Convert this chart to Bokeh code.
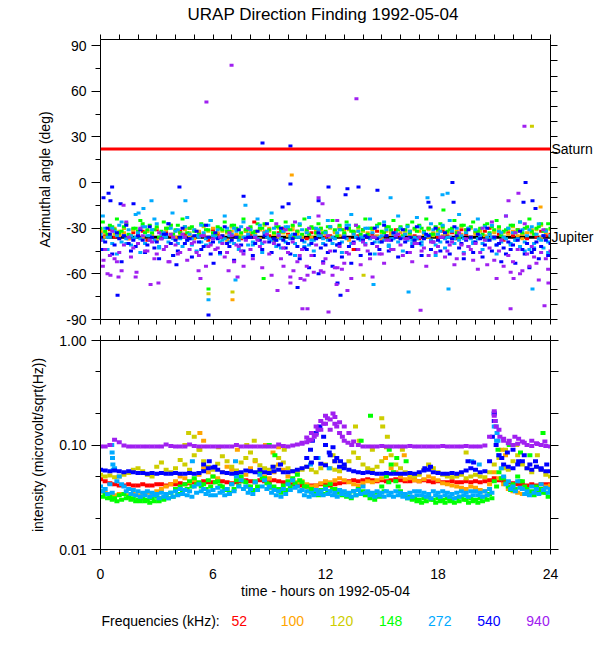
from bokeh.plotting import figure
from bokeh.layouts import column
from bokeh.models import Range1d, FixedTicker, LinearAxis, LogAxis, ColumnDataSource, Span
from bokeh.core.properties import value
from bokeh.embed import file_html
from bokeh.resources import INLINE

# ---------------- data ----------------
title_text = "URAP Direction Finding  1992-05-04"
freqs = [52, 100, 120, 148, 272, 540, 940]
planets = ["Saturn", "Jupiter"]
planet_az = [22, -36]

x_ticks = [0, 6, 12, 18, 24]
x_minor = [1, 2, 3, 4, 5, 7, 8, 9, 10, 11, 13, 14, 15, 16, 17, 19, 20, 21, 22, 23]
x_all = [0, 1, 2, 3, 4, 5, 6, 7, 8, 9, 10, 11, 12, 13, 14, 15, 16, 17, 18, 19, 20, 21, 22, 23, 24]
az_ticks = [-90, -60, -30, 0, 30, 60, 90]
az_minor = [-75, -45, -15, 15, 45, 75]
az_right_minor = [-90, -80, -70, -60, -50, -40, -30, -20, -10, 0, 10, 20, 30, 40, 50, 60, 70, 80, 90]
int_ticks = [0.01, 0.1, 1.0]
int_tick_labels = ["0.01", "0.10", "1.00"]
int_minor = [0.02, 0.05, 0.2, 0.5]
int_all = [0.01, 0.02, 0.05, 0.1, 0.2, 0.5, 1.0]

hours = [0.0, 0.25, 0.5, 0.75, 1.0, 1.25, 1.5, 1.75, 2.0, 2.25, 2.5, 2.75, 3.0, 3.25, 3.5, 3.75,
         4.0, 4.25, 4.5, 4.75, 5.0, 5.25, 5.5, 5.75, 6.0, 6.25, 6.5, 6.75, 7.0, 7.25, 7.5, 7.75,
         8.0, 8.25, 8.5, 8.75, 9.0, 9.25, 9.5, 9.75, 10.0, 10.25, 10.5, 10.75, 11.0, 11.25, 11.5, 11.75,
         12.0, 12.25, 12.5, 12.75, 13.0, 13.25, 13.5, 13.75, 14.0, 14.25, 14.5, 14.75, 15.0, 15.25, 15.5, 15.75,
         16.0, 16.25, 16.5, 16.75, 17.0, 17.25, 17.5, 17.75, 18.0, 18.25, 18.5, 18.75, 19.0, 19.25, 19.5, 19.75,
         20.0, 20.25, 20.5, 20.75, 21.0, 21.25, 21.5, 21.75, 22.0, 22.25, 22.5, 22.75, 23.0, 23.25, 23.5, 23.75,
         24.0]
hours_b = [0.125, 0.375, 0.625, 0.875, 1.125, 1.375, 1.625, 1.875, 2.125, 2.375, 2.625, 2.875,
           3.125, 3.375, 3.625, 3.875, 4.125, 4.375, 4.625, 4.875, 5.125, 5.375, 5.625, 5.875,
           6.125, 6.375, 6.625, 6.875, 7.125, 7.375, 7.625, 7.875, 8.125, 8.375, 8.625, 8.875,
           9.125, 9.375, 9.625, 9.875, 10.125, 10.375, 10.625, 10.875, 11.125, 11.375, 11.625, 11.875,
           12.125, 12.375, 12.625, 12.875, 13.125, 13.375, 13.625, 13.875, 14.125, 14.375, 14.625, 14.875,
           15.125, 15.375, 15.625, 15.875, 16.125, 16.375, 16.625, 16.875, 17.125, 17.375, 17.625, 17.875,
           18.125, 18.375, 18.625, 18.875, 19.125, 19.375, 19.625, 19.875, 20.125, 20.375, 20.625, 20.875,
           21.125, 21.375, 21.625, 21.875, 22.125, 22.375, 22.625, 22.875, 23.125, 23.375, 23.625, 23.875]

# azimuth (deg) per frequency
az_52 = [-33, -35, -31, -36, -34, -30, -37, -33, -35, -32, -38, -34, -31, -36, -33, -35,
         -37, -32, -34, -30, -36, -33, -35, -38, -31, -34, -36, -33, -29, -35, -37, -32,
         -34, -36, -31, -33, -35, -38, -33, -30, -34, -36, -32, -35, -37, -33, -31, -34,
         -36, -35, -32, -30, -34, -37, -33, -35, -31, -36, -34, -32, -38, -35, -33, -31,
         -36, -34, -32, -35, -37, -33, -30, -34, -36, -32, -35, -33, -37, -31, -34, -36,
         -33, -35, -32, -30, -36, -34, -38, -33, -35, -31, -34, -37, -33, -36, -32, -35, -34]
az_100 = [-32, -36, -34, -30, -35, -33, -37, -31, -34, -36, -32, -35, -38, -33, -30, -34,
          -36, -33, -31, -35, -37, -32, -34, -36, -30, -33, -35, -38, -32, -34, -36, -31,
          -33, -35, -37, -32, -30, -34, -36, -33, -35, -31, -34, -37, -33, -36, -32, -30,
          -34, -36, -33, -35, -31, -38, -34, -32, -36, -33, -30, -35, -37, -32, -34, -36,
          -33, -31, -35, -38, -32, -34, -36, -33, -30, -35, -33, -37, -32, -34, -31, -36,
          -34, -32, -35, -37, -33, -30, -36, -34, -32, -35, -37, -33, -31, -34, -36, -33, -35]
az_120 = [-31, -33, -29, -34, -32, -30, -35, -31, -33, -29, -32, -34, -30, -33, -31, -28,
          -32, -34, -30, -33, -31, -35, -29, -32, -34, -30, -32, -33, -29, -31, -34, -32,
          -30, -33, -31, -28, -32, -34, -30, -33, -31, -29, -33, -35, -32, -30, -34, -31,
          -33, -30, -32, -29, -34, -31, -33, -30, -32, -35, -31, -29, -33, -30, -32, -34,
          -30, -32, -34, -31, -29, -33, -31, -35, -32, -30, -33, -31, -34, -29, -32, -30,
          -33, -31, -29, -34, -32, -30, -33, -31, -29, -32, -34, -30, -33, -31, -28, -32, -31]
az_148 = [-30, -32, -28, -31, -33, -29, -34, -30, -32, -27, -31, -33, -29, -32, -30, -28,
          -31, -33, -29, -30, -32, -34, -28, -31, -33, -29, -31, -32, -28, -30, -33, -31,
          -29, -32, -30, -27, -31, -33, -29, -32, -30, -28, -32, -34, -31, -29, -33, -30,
          -32, -29, -31, -28, -33, -30, -32, -29, -31, -34, -30, -28, -32, -29, -31, -33,
          -29, -31, -33, -30, -28, -32, -30, -34, -31, -29, -32, -30, -33, -28, -31, -29,
          -32, -30, -28, -33, -31, -29, -32, -30, -28, -31, -33, -29, -32, -30, -27, -31, -30]
az_148b = [-26, -34, -29, -24, -32, -27, -35, -30, -25, -33, -28, -31, -36, -26, -30, -34,
           -28, -24, -33, -29, -35, -27, -31, -25, -34, -30, -26, -32, -28, -36, -24, -31,
           -33, -27, -30, -35, -25, -29, -32, -26, -31, -36, -28, -24, -34, -30, -27, -33,
           -29, -25, -35, -31, -26, -32, -28, -34, -24, -30, -36, -27, -33, -29, -25, -31,
           -35, -28, -26, -32, -30, -24, -34, -29, -27, -33, -31, -25, -36, -28, -30, -26,
           -32, -34, -27, -29, -25, -35, -31, -28, -33, -26, -30, -24, -34, -29, -32, -27]
az_272a = [-34, -30, -36, -32, -28, -35, -31, -37, -33, -29, -35, -31, -27, -34, -36, -30,
           -32, -37, -29, -34, -31, -36, -33, -28, -35, -31, -38, -30, -34, -32, -29, -36,
           -31, -35, -28, -33, -37, -30, -34, -32, -29, -34, -36, -31, -33, -38, -30, -35,
           -33, -29, -37, -31, -35, -28, -34, -32, -36, -30, -33, -29, -35, -31, -37, -33,
           -30, -34, -32, -36, -29, -33, -35, -31, -34, -28, -36, -32, -30, -35, -33, -37,
           -31, -35, -29, -34, -37, -32, -36, -30, -33, -37, -31, -35, -29, -34, -38, -32, -35]
az_272b = [-38, -36, -40, -35, -39, -37, -41, -36, -37, -40, -35, -38, -42, -36, -39, -37,
           -40, -36, -38, -41, -35, -39, -37, -40, -36, -39, -37, -35, -40, -38, -36, -41,
           -39, -37, -40, -36, -38, -42, -37, -39, -37, -40, -36, -39, -41, -38, -35, -40,
           -38, -36, -41, -39, -37, -40, -36, -38, -40, -37, -39, -36, -38, -41, -37, -39,
           -36, -38, -40, -37, -39, -35, -38, -41, -39, -37, -36, -40, -38, -37, -42, -39,
           -37, -40, -38, -36, -41, -39, -37, -40, -38, -42, -39, -44, -40, -37, -43, -39]
az_272c = [-22, -44, -30, -47, -26, -40, -35, -21, -46, -29, -38, -24, -43, -33, -27, -48,
           -31, -42, -23, -37, -45, -28, -41, -25, -36, -47, -22, -39, -30, -44, -26, -34,
           -41, -24, -46, -32, -20, -38, -43, -29, -35, -48, -27, -42, -23, -45, -31, -37,
           -25, -40, -33, -46, -28, -21, -44, -36, -30, -24, -47, -39, -26, -42, -34, -22,
           -45, -29, -38, -23, -41, -35, -27, -48, -32, -43, -25, -37, -21, -46, -30, -40,
           -24, -44, -36, -28, -47, -33, -22, -41, -38, -26, -45, -31, -43, -27, -35, -46]
az_540a = [-36, -39, -34, -41, -37, -35, -40, -38, -35, -38, -41, -36, -39, -37, -34, -40,
           -38, -36, -40, -37, -35, -39, -42, -36, -39, -37, -35, -40, -38, -36, -41, -37,
           -36, -40, -38, -35, -39, -37, -41, -38, -40, -37, -42, -38, -44, -40, -37, -43,
           -41, -38, -45, -40, -36, -42, -39, -37, -38, -36, -40, -37, -39, -35, -38, -36,
           -37, -39, -36, -38, -40, -37, -35, -39, -38, -36, -39, -37, -35, -40, -38, -36,
           -39, -37, -41, -38, -36, -40, -43, -39, -41, -38, -44, -40, -46, -39, -42, -38, -40]
az_540b = [-44, -30, -47, -33, -52, -28, -45, -42, -31, -46, -29, -43, -50, -34, -27, -48,
           -45, -30, -38, -49, -32, -44, -28, -47, -33, -46, -29, -42, -51, -31, -45, -36,
           -48, -32, -44, -27, -46, -38, -30, -43, -47, -34, -50, -43, -56, -48, -33, -52,
           -46, -55, -41, -49, -30, -53, -44, -48, -35, -47, -30, -44, -28, -45, -33, -49,
           -31, -46, -42, -29, -48, -34, -44, -30, -45, -33, -47, -29, -43, -50, -31, -46,
           -34, -49, -30, -45, -41, -52, -47, -44, -53, -32, -47, -56, -44, -50, -35, -48]
az_940a = [-38, -44, -48, -50, -46, -41, -36, -43, -40, -35, -45, -39, -47, -37, -42, -34,
           -41, -46, -36, -44, -39, -48, -35, -42, -37, -43, -40, -46, -35, -41, -45, -38,
           -44, -36, -42, -39, -47, -40, -35, -43, -46, -39, -52, -44, -55, -48, -41, -58,
           -50, -45, -56, -42, -53, -47, -40, -44, -39, -45, -36, -42, -47, -38, -44, -35,
           -41, -37, -46, -40, -36, -43, -48, -39, -42, -36, -45, -39, -50, -41, -37, -44,
           -40, -46, -38, -43, -51, -45, -55, -48, -52, -44, -58, -47, -42, -53, -46, -50, -45]
az_940b = [-55, -60, -32, -52, -58, -26, -49, -62, -30, -45, -38, -50, -33, -44, -52, -36,
           -47, -34, -51, -40, -46, -35, -55, -41, -44, -36, -49, -33, -52, -42, -47, -30,
           -50, -38, -56, -34, -61, -27, -50, -31, -62, -26, -48, -64, -30, -59, -22, -53,
           -35, -61, -25, -57, -46, -63, -28, -54, -41, -50, -36, -47, -53, -38, -44, -34,
           -48, -37, -52, -40, -45, -55, -39, -46, -36, -49, -41, -54, -33, -47, -42, -51,
           -57, -30, -54, -26, -63, -38, -22, -59, -33, -60, -27, -55, -49, -64, -31, -57]

# scattered azimuth outliers (hours, deg)
out_540_h = [0.16, 0.43, 0.53, 0.62, 1.07, 1.76, 4.21, 7.63, 8.64, 9.71, 10.03, 10.13, 10.13, 11.63, 12.16,
             13.07, 13.17, 13.76, 14.77, 17.49, 17.6, 18.77, 18.83, 22.56, 22.67, 23.04, 23.2,
             0.91, 4.05, 5.76, 6.03, 10.51, 11.63, 12.64, 12.8]
out_540_az = [-10, -7, -12, -3, -14, -14, -3, -9, 26, -16, -14, -1, 24, -12, -3,
              -8, -4, -3, -5, -13, -16, 0, -13, -13, 0, -12, -17,
              -74, -54, -87, -53, -69, -60, -66, -74]
out_940_h = [5.65, 6.99, 13.65, 22.61, 11.63, 11.84, 21.76, 22.29, 1.23,
             0.16, 0.53, 0.96, 1.92, 2.67, 3.09, 3.68, 5.23, 5.33, 6.83, 7.31, 7.63, 9.76, 10.29,
             10.67, 11.04, 11.89, 12.64, 12.16, 10.13, 10.77, 9.44, 12.59, 11.04, 13.17, 14.51,
             17.07, 21.87, 23.89, 22.03, 23.68]
out_940_az = [53, 77, 55, 37, -10, -14, -12, -7, -15,
              -51, -61, -62, -59, -67, -66, -52, -58, -63, -58, -62, -55, -55, -58,
              -63, -61, -59, -56, -85, -66, -83, -71, -67, -83, -71, -62,
              -84, -83, -66, -63, -81]
out_272_h = [2.03, 2.29, 2.72, 3.84, 4.53, 7.73, 15.47, 17.44, 18.24, 18.51,
             5.76, 7.2, 14.56, 16.43, 18.56, 23.04]
out_272_az = [-20, -17, -12, -20, -12, -15, -10, -10, -8, -7,
              -77, -64, -67, -72, -70, -70]
out_120_h = [23.01, 5.76, 7.04, 14.03]
out_120_az = [37, -73, -72, -61]
out_100_h = [7.04, 23.47, 10.2]
out_100_az = [-77, -16, 5]
out_148_h = [5.76, 18.29, 8.7]
out_148_az = [-70, -18, -63]
out_52_h = [8.2, 13.5]
out_52_az = [-26, -44]

# intensity (microvolt/sqrt(Hz)) per frequency
int_52 = [.047, .045, .043, .042, .041, .041, .042, .041, .041, .042, .041, .041, .042, .042, .041, .042,
          .042, .043, .042, .043, .044, .043, .045, .044, .044, .046, .045, .044, .043, .044, .045, .046,
          .045, .044, .046, .045, .044, .046, .045, .044, .043, .042, .041, .041, .040, .041, .041, .042,
          .042, .041, .042, .043, .044, .045, .046, .045, .046, .047, .046, .045, .046, .045, .046, .047,
          .046, .045, .045, .046, .045, .046, .045, .044, .045, .044, .044, .045, .044, .044, .045, .044,
          .045, .044, .045, .046, .048, .046, .045, .044, .043, .042, .042, .041, .042, .041, .042, .042,
          .042]
int_100 = [.036, .035, .034, .033, .034, .034, .033, .034, .033, .034, .035, .034, .036, .038, .040, .042,
           .045, .050, .048, .044, .046, .052, .060, .055, .050, .048, .055, .062, .058, .050, .047, .052,
           .060, .070, .055, .050, .048, .055, .065, .058, .050, .046, .044, .045, .042, .040, .041, .043,
           .045, .044, .046, .048, .046, .044, .042, .041, .043, .045, .044, .046, .048, .052, .060, .055,
           .050, .047, .048, .046, .045, .047, .050, .048, .046, .043, .042, .041, .040, .039, .038, .040,
           .039, .037, .036, .042, .055, .048, .042, .038, .036, .035, .034, .034, .035, .036, .038, .040,
           .041]
int_120 = [.052, .050, .051, .049, .050, .052, .054, .058, .060, .056, .052, .050, .062, .068, .058, .055,
           .060, .072, .065, .058, .080, .090, .070, .062, .058, .066, .078, .070, .062, .057, .068, .075,
           .085, .072, .064, .060, .058, .062, .075, .068, .060, .056, .055, .058, .062, .058, .055, .060,
           .065, .060, .058, .056, .062, .070, .085, .075, .065, .060, .058, .062, .070, .095, .080, .065,
           .060, .055, .052, .050, .052, .058, .065, .060, .055, .052, .050, .049, .050, .052, .048, .050,
           .052, .050, .049, .055, .065, .075, .060, .058, .070, .080, .065, .060, .055, .062, .058, .052,
           .050]
int_148a = [.036, .034, .032, .031, .033, .034, .032, .031, .030, .031, .030, .031, .032, .031, .033, .035,
            .038, .040, .042, .045, .048, .044, .042, .046, .050, .045, .040, .038, .042, .046, .050, .044,
            .040, .045, .055, .048, .042, .040, .038, .041, .045, .048, .052, .044, .040, .038, .036, .037,
            .040, .042, .038, .036, .035, .034, .036, .038, .036, .034, .033, .035, .040, .050, .065, .045,
            .036, .033, .032, .031, .030, .031, .032, .030, .031, .030, .031, .030, .031, .032, .030, .031,
            .030, .031, .032, .034, .045, .055, .048, .040, .042, .050, .045, .038, .036, .040, .038, .035,
            .036]
int_148b = [.032, .031, .030, .029, .030, .031, .030, .029, .029, .029, .028, .029, .029, .030, .031, .032,
            .034, .036, .038, .040, .042, .040, .038, .040, .044, .041, .037, .035, .038, .041, .045, .040,
            .037, .040, .048, .043, .039, .037, .035, .037, .040, .043, .046, .040, .036, .035, .033, .034,
            .036, .038, .035, .033, .032, .031, .033, .035, .033, .031, .030, .032, .036, .044, .055, .040,
            .033, .031, .030, .029, .028, .029, .030, .028, .029, .028, .029, .028, .029, .030, .028, .029,
            .028, .029, .030, .031, .040, .048, .043, .037, .038, .045, .040, .035, .033, .036, .035, .032]
int_272a = [.040, .038, .042, .060, .050, .040, .038, .037, .036, .035, .036, .035, .034, .035, .034, .035,
            .036, .038, .037, .036, .040, .042, .038, .036, .037, .039, .036, .038, .042, .050, .046, .040,
            .038, .044, .052, .046, .040, .037, .036, .038, .042, .046, .040, .037, .036, .035, .037, .036,
            .038, .036, .035, .037, .036, .035, .036, .037, .040, .036, .035, .036, .035, .036, .035, .036,
            .035, .034, .035, .036, .036, .035, .034, .036, .035, .036, .035, .034, .035, .036, .035, .036,
            .036, .035, .036, .038, .150, .080, .050, .045, .040, .045, .038, .036, .040, .038, .042, .039,
            .038]
int_272b = [.036, .034, .035, .045, .042, .036, .034, .033, .032, .033, .032, .033, .031, .032, .031, .032,
            .033, .034, .033, .032, .035, .036, .034, .033, .033, .035, .033, .034, .036, .040, .038, .035,
            .034, .037, .040, .038, .035, .033, .032, .034, .037, .039, .036, .033, .032, .033, .034, .033,
            .034, .033, .032, .034, .033, .032, .033, .034, .035, .033, .032, .033, .032, .033, .032, .033,
            .032, .031, .032, .033, .033, .032, .031, .033, .032, .033, .032, .031, .032, .033, .032, .033,
            .033, .032, .033, .035, .110, .060, .042, .038, .036, .039, .034, .033, .035, .034, .037, .035]
int_540 = [.058, .057, .056, .057, .056, .055, .056, .055, .054, .054, .053, .054, .053, .054, .053, .053,
           .054, .053, .053, .054, .053, .054, .056, .060, .061, .058, .055, .054, .053, .054, .055, .057,
           .056, .055, .058, .055, .054, .056, .058, .055, .055, .056, .058, .060, .062, .068, .075, .066,
           .064, .080, .070, .062, .060, .058, .056, .055, .054, .055, .054, .053, .053, .054, .053, .053,
           .053, .053, .054, .053, .055, .057, .058, .055, .054, .053, .053, .054, .053, .055, .057, .060,
           .058, .055, .056, .070, .170, .080, .065, .062, .060, .065, .070, .060, .058, .062, .058, .056,
           .056]
int_940 = [.097, .097, .100, .112, .106, .099, .097, .097, .097, .097, .097, .097, .097, .097, .101, .098,
           .097, .097, .097, .101, .098, .097, .097, .097, .097, .097, .097, .097, .097, .100, .097, .097,
           .097, .097, .097, .097, .097, .097, .101, .098, .097, .099, .101, .103, .106, .112, .125, .140,
           .160, .175, .185, .165, .150, .130, .108, .100, .097, .097, .097, .097, .098, .097, .097, .097,
           .097, .097, .098, .097, .097, .097, .097, .097, .097, .098, .097, .097, .097, .097, .098, .097,
           .097, .097, .099, .120, .210, .140, .110, .104, .100, .103, .108, .100, .098, .104, .100, .098,
           .097]

# scattered intensity points (hours, value)
ext_100_h = [5.3, 5.5, 7.3, 8.8, 9.2, 9.5, 12.5, 15.2, 16.2, 21.4, 21.6]
ext_100_v = [.13, .11, .09, .10, .085, .095, .07, .075, .08, .09, .08]
ext_120_h = [4.5, 4.7, 5.0, 5.3, 6.3, 7.8, 8.2, 9.8, 12.4, 13.6, 13.8, 14.5, 15.0, 15.05, 15.3, 16.1, 19.5, 21.6, 22.2, 23.3]
ext_120_v = [.10, .13, .12, .09, .095, .10, .11, .09, .08, .15, .11, .09, .18, .15, .12, .09, .085, .09, .10, .08]
ext_148_h = [9.0, 9.3, 13.9, 14.4, 15.4, 15.8, 16.3, 21.2, 21.8, 22.4, 22.9, 23.6]
ext_148_v = [.10, .08, .11, .19, .09, .075, .07, .09, .10, .085, .08, .13]
ext_272_h = [0.6, 0.62, 0.64, 0.66, 0.68, 4.9, 7.2, 11.2, 11.6, 12.2, 19.8, 20.2, 21.0, 21.05, 21.1, 21.15, 21.2]
ext_272_v = [.10, .085, .075, .065, .058, .07, .07, .065, .075, .06, .07, .065, .20, .17, .15, .13, .11]
ext_540_h = [11.0, 11.2, 11.3, 11.5, 11.7, 11.9, 12.0, 12.2, 12.4, 12.6, 12.8, 13.0,
             20.9, 21.0, 21.1, 21.4, 21.7, 22.0, 22.3, 22.6, 22.9, 23.2, 23.5, 23.8,
             5.5, 5.8, 6.1, 9.2, 9.6, 17.3, 17.6, 19.6, 19.9]
ext_540_v = [.075, .09, .11, .13, .15, .12, .10, .085, .095, .075, .07, .065,
             .12, .20, .10, .075, .085, .09, .07, .08, .065, .07, .06, .065,
             .065, .07, .062, .062, .065, .06, .062, .07, .068]
ext_940_h = [10.75, 11.0, 11.1, 11.25, 11.4, 11.5, 11.6, 11.75, 11.9, 12.0, 12.1, 12.25, 12.4, 12.5, 12.6, 12.75,
             12.9, 13.0, 13.2, 13.4, 21.0, 21.05, 21.1, 21.3, 21.5, 21.8, 22.1, 22.3, 22.6, 23.0, 23.3, 23.7]
ext_940_v = [.105, .118, .11, .13, .12, .15, .14, .17, .16, .19, .18, .14, .20, .16, .15, .13,
             .12, .11, .105, .10, .19, .17, .15, .12, .115, .11, .12, .115, .105, .11, .102, .108]

# ---------------- styling ----------------
FONT = "Liberation Sans"
COLORS = {52: "#FF0000", 100: "#FFA500", 120: "#CDCD00", 148: "#00FF00",
          272: "#00AAFF", 540: "#0000FF", 940: "#A020F0"}
LEFT, RIGHT, FW = 100, 48, 450


def style_axis(ax, major_out, minor_out):
    ax.axis_line_color = "black"
    ax.axis_line_width = 1
    ax.major_tick_line_color = "black"
    ax.minor_tick_line_color = "black"
    ax.major_tick_in = 0
    ax.minor_tick_in = 0
    ax.major_tick_out = major_out
    ax.minor_tick_out = minor_out
    ax.major_label_text_font = FONT
    ax.major_label_text_font_size = "14px"
    ax.major_label_text_color = "black"
    ax.axis_label_text_font = FONT
    ax.axis_label_text_font_style = "normal"
    ax.axis_label_text_font_size = "14px"
    ax.axis_label_text_color = "black"


def bare_axis(ticks, minor_out, log=False):
    ax = (LogAxis if log else LinearAxis)(ticker=FixedTicker(ticks=[], minor_ticks=ticks))
    style_axis(ax, 0, minor_out)
    ax.major_label_standoff = 0
    return ax


def dots(p, xs, ys, color, w, h):
    n = min(len(xs), len(ys))
    src = ColumnDataSource(dict(x=list(xs[:n]), y=list(ys[:n])))
    p.rect("x", "y", width=w, height=h, width_units="screen", height_units="screen",
           source=src, fill_color=color, line_color=None)


def strip(height):
    # text strip; its frame is aligned with the panels' frames by the column layout
    s = figure(width=LEFT + FW + RIGHT, height=height, x_range=Range1d(0, 24), y_range=Range1d(0, 1),
               x_axis_location=None, y_axis_location=None, output_backend="svg",
               toolbar_location=None, title=None, min_border_left=LEFT, min_border_right=RIGHT,
               min_border_top=0, min_border_bottom=0)
    s.grid.visible = False
    s.outline_line_color = None
    return s


# ---------------- title strip ----------------
pt = strip(28)
pt.text(x=[12], y=[0.5], text=[title_text], text_align="center", text_baseline="middle",
        text_font=value(FONT), text_font_size="17px", text_color="black")

# ---------------- top panel: azimuth ----------------
p1 = figure(frame_width=FW, frame_height=280, x_range=Range1d(0, 24), y_range=Range1d(-90, 94),
            x_axis_location=None, output_backend="svg", toolbar_location=None, title=None,
            min_border_left=LEFT, min_border_right=RIGHT, min_border_top=11, min_border_bottom=8)
p1.grid.visible = False
p1.outline_line_color = None
p1.background_fill_color = "white"

p1.add_layout(bare_axis(x_all, 5), "above")
p1.add_layout(bare_axis(x_all, 5), "below")

ya = p1.yaxis[0]
ya.ticker = FixedTicker(ticks=az_ticks, minor_ticks=az_minor)
ya.major_label_overrides = {t: str(t) for t in az_ticks}
style_axis(ya, 9, 5)
ya.major_label_standoff = 5
ya.axis_label = "Azimuthal angle (deg)"
ya.axis_label_standoff = 10

yr = LinearAxis(ticker=FixedTicker(ticks=planet_az, minor_ticks=az_right_minor))
yr.major_label_overrides = {a: n for a, n in zip(planet_az, planets)}
style_axis(yr, 0, 7)
yr.major_label_standoff = -6
p1.add_layout(yr, "right")

p1.add_layout(Span(location=planet_az[1], dimension="width", line_color="black",
                   line_width=3, level="underlay"))

az_series = [(52, hours, az_52), (100, hours, az_100), (120, hours, az_120),
             (148, hours, az_148), (148, hours_b, az_148b),
             (272, hours, az_272a), (272, hours_b, az_272b), (272, hours_b, az_272c),
             (540, hours, az_540a), (540, hours_b, az_540b),
             (940, hours, az_940a), (940, hours_b, az_940b)]
for f, hs, vals in az_series:
    dots(p1, hs, vals, COLORS[f], 4, 3)

out_series = [(52, out_52_h, out_52_az), (100, out_100_h, out_100_az), (120, out_120_h, out_120_az),
              (148, out_148_h, out_148_az), (272, out_272_h, out_272_az),
              (540, out_540_h, out_540_az), (940, out_940_h, out_940_az)]
for f, hs, vs in out_series:
    dots(p1, hs, vs, COLORS[f], 4, 3)

p1.add_layout(Span(location=planet_az[0], dimension="width", line_color="#FF0000", line_width=3))

# ---------------- bottom panel: intensity ----------------
p2 = figure(frame_width=FW, frame_height=209, x_range=Range1d(0, 24), y_range=Range1d(0.01, 1.0),
            y_axis_type="log", output_backend="svg", toolbar_location=None, title=None,
            min_border_left=LEFT, min_border_right=RIGHT, min_border_top=13, min_border_bottom=54)
p2.grid.visible = False
p2.outline_line_color = None
p2.background_fill_color = "white"

xb = p2.xaxis[0]
xb.ticker = FixedTicker(ticks=x_ticks, minor_ticks=x_minor)
xb.major_label_overrides = {t: str(t) for t in x_ticks}
style_axis(xb, 5, 5)
xb.major_label_standoff = 14
xb.axis_label = "time - hours on 1992-05-04"
xb.axis_label_standoff = 1
p2.add_layout(bare_axis(x_all, 5), "above")

yb = p2.yaxis[0]
yb.ticker = FixedTicker(ticks=int_ticks, minor_ticks=int_minor)
yb.major_label_overrides = {t: s for t, s in zip(int_ticks, int_tick_labels)}
style_axis(yb, 9, 5)
yb.major_label_standoff = 5
yb.axis_label = "intensity (microvolt/sqrt(Hz))"
yb.axis_label_standoff = 10
p2.add_layout(bare_axis(int_all, 8, log=True), "right")

int_series = [(52, hours, int_52), (100, hours, int_100), (100, ext_100_h, ext_100_v),
              (120, hours, int_120), (120, ext_120_h, ext_120_v),
              (148, hours, int_148a), (148, hours_b, int_148b), (148, ext_148_h, ext_148_v),
              (272, hours, int_272a), (272, hours_b, int_272b), (272, ext_272_h, ext_272_v),
              (540, hours, int_540), (540, ext_540_h, ext_540_v),
              (940, hours, int_940), (940, ext_940_h, ext_940_v)]
for f, hs, vs in int_series:
    dots(p2, hs, vs, COLORS[f], 5, 4)

# ---------------- frequency legend strip ----------------
pl = strip(34)
pl.text(x=[0.05], y=[0.5], text=["Frequencies (kHz):"], text_align="left", text_baseline="middle",
        text_font=value(FONT), text_font_size="14px", text_color="black")
leg_x = [6.99 + i * 2.62 for i in range(len(freqs))]
pl.text(x=leg_x, y=[0.5] * len(freqs), text=[str(f) for f in freqs], text_align="left",
        text_baseline="middle", text_font=value(FONT), text_font_size="14px",
        text_color=[COLORS[f] for f in freqs])

layout = column(pt, p1, p2, pl, spacing=0)
open("out.html", "w").write(file_html(layout, INLINE))
